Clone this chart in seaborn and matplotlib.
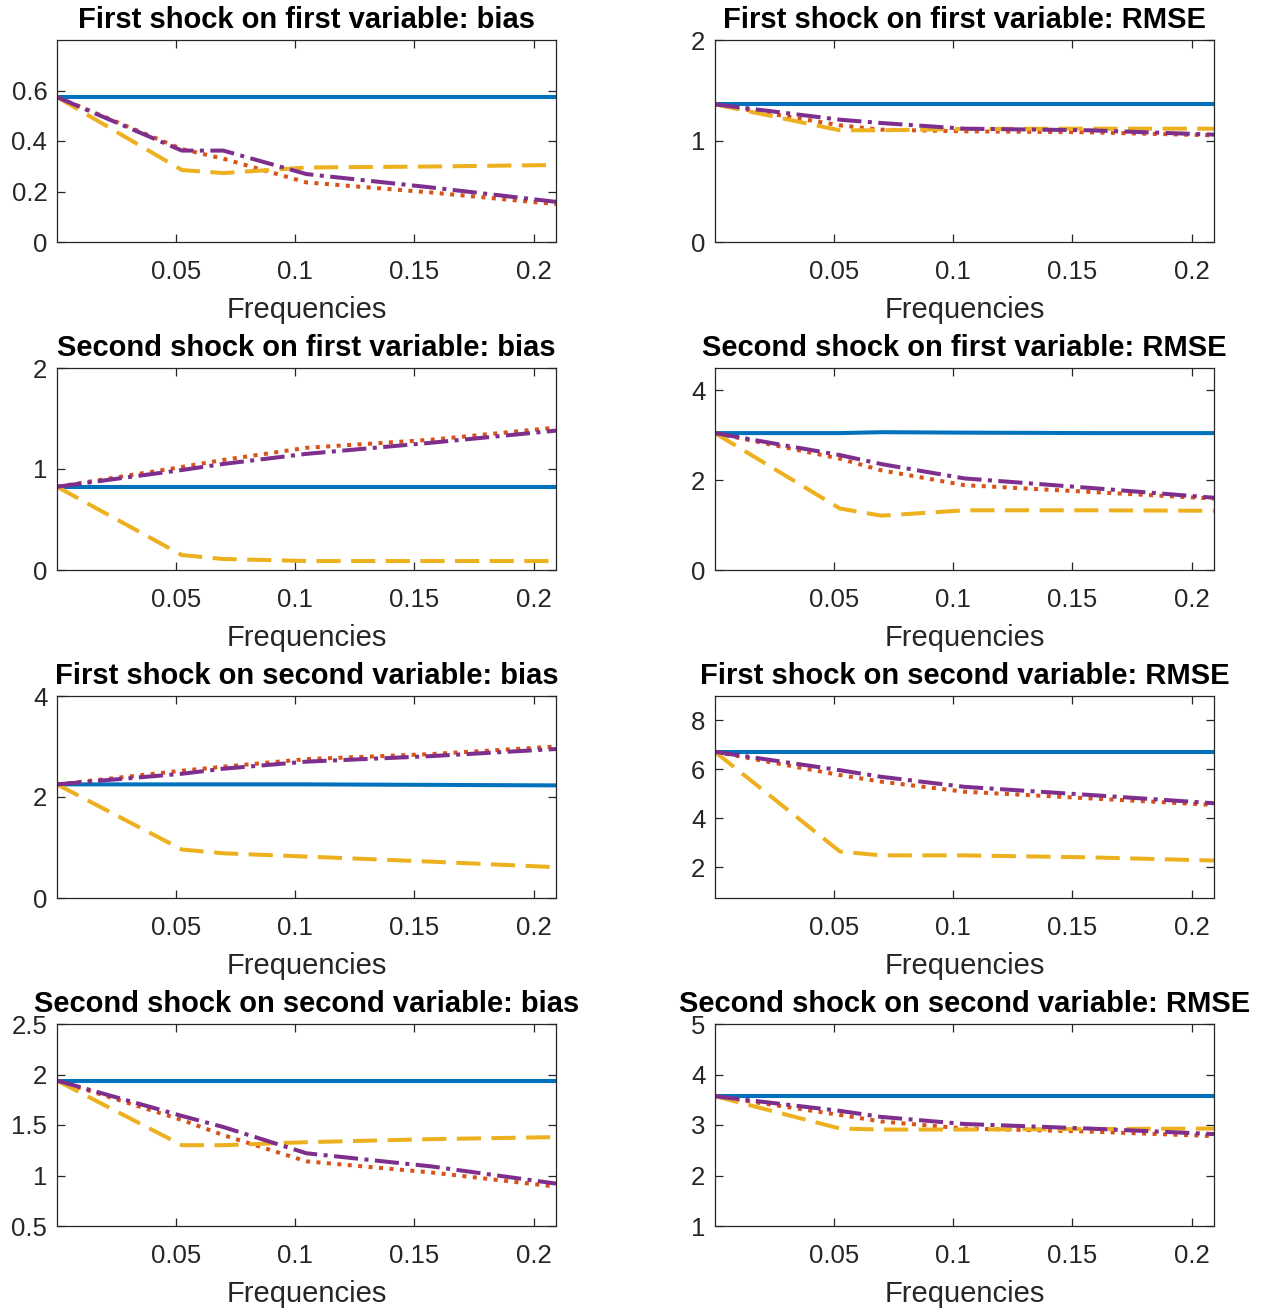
import numpy as np
import pandas as pd
import matplotlib
matplotlib.use("Agg")
import matplotlib.pyplot as plt
import seaborn as sns

# Frequency grid (radians per period)
freqs = [0.0, 0.0524, 0.0698, 0.1047, 0.1571, 0.2094]

titles = [
    "First shock on first variable: bias",
    "First shock on first variable: RMSE",
    "Second shock on first variable: bias",
    "Second shock on first variable: RMSE",
    "First shock on second variable: bias",
    "First shock on second variable: RMSE",
    "Second shock on second variable: bias",
    "Second shock on second variable: RMSE",
]

# One list per panel, panels in row-major order
solid_vals = [
    [0.574, 0.574, 0.574, 0.574, 0.574, 0.574],
    [1.363, 1.363, 1.363, 1.363, 1.363, 1.363],
    [0.824, 0.824, 0.824, 0.824, 0.824, 0.824],
    [3.05, 3.05, 3.07, 3.06, 3.05, 3.05],
    [2.25, 2.25, 2.25, 2.25, 2.24, 2.23],
    [6.72, 6.72, 6.72, 6.72, 6.72, 6.72],
    [1.94, 1.94, 1.94, 1.94, 1.94, 1.94],
    [3.57, 3.57, 3.57, 3.57, 3.57, 3.57],
]
dotted_vals = [
    [0.574, 0.368, 0.330, 0.236, 0.196, 0.150],
    [1.363, 1.155, 1.112, 1.096, 1.086, 1.056],
    [0.824, 1.02, 1.09, 1.21, 1.29, 1.41],
    [3.05, 2.48, 2.22, 1.89, 1.74, 1.59],
    [2.25, 2.52, 2.60, 2.75, 2.85, 3.00],
    [6.72, 5.77, 5.50, 5.09, 4.82, 4.55],
    [1.94, 1.55, 1.40, 1.14, 1.03, 0.89],
    [3.57, 3.20, 3.07, 2.93, 2.87, 2.78],
]
dashed_vals = [
    [0.574, 0.285, 0.273, 0.295, 0.299, 0.305],
    [1.363, 1.106, 1.106, 1.119, 1.122, 1.122],
    [0.824, 0.148, 0.109, 0.089, 0.089, 0.089],
    [3.05, 1.37, 1.21, 1.33, 1.33, 1.32],
    [2.25, 0.96, 0.885, 0.82, 0.72, 0.61],
    [6.72, 2.65, 2.49, 2.49, 2.41, 2.28],
    [1.94, 1.30, 1.30, 1.33, 1.36, 1.38],
    [3.57, 2.93, 2.91, 2.91, 2.92, 2.93],
]
dashdot_vals = [
    [0.574, 0.362, 0.362, 0.269, 0.216, 0.159],
    [1.363, 1.211, 1.178, 1.122, 1.106, 1.063],
    [0.824, 0.99, 1.05, 1.15, 1.26, 1.38],
    [3.05, 2.56, 2.36, 2.04, 1.83, 1.61],
    [2.25, 2.46, 2.56, 2.70, 2.81, 2.95],
    [6.72, 5.97, 5.70, 5.29, 4.96, 4.62],
    [1.94, 1.59, 1.48, 1.22, 1.09, 0.92],
    [3.57, 3.28, 3.16, 3.02, 2.93, 2.82],
]

y_limits = [(0, 0.8), (0, 2), (0, 2), (0, 4.5), (0, 4), (0.75, 9), (0.5, 2.5), (1, 5)]
y_ticks = [
    [0, 0.2, 0.4, 0.6],
    [0, 1, 2],
    [0, 1, 2],
    [0, 2, 4],
    [0, 2, 4],
    [2, 4, 6, 8],
    [0.5, 1, 1.5, 2, 2.5],
    [1, 2, 3, 4, 5],
]
x_ticks = [0.05, 0.1, 0.15, 0.2]
x_tick_labels = ["0.05", "0.1", "0.15", "0.2"]

sns.set_style("ticks")
plt.rcParams["font.family"] = ["Liberation Sans", "DejaVu Sans"]

AX_COLOR = "#262626"
series_styles = [
    (solid_vals, "#0072BD", None),
    (dotted_vals, "#D95319", (1.0, 1.6)),
    (dashed_vals, "#EDB120", (6.0, 2.6)),
    (dashdot_vals, "#7E2F8E", (6.0, 1.6, 1.0, 1.6)),
]

W, H = 1271, 1312
fig = plt.figure(figsize=(W / 100, H / 100), dpi=100)

col_left = [57, 715]
ax_w = 499
row_top = [40, 368, 696, 1024]
ax_h = 202

for i in range(8):
    r, c = divmod(i, 2)
    left = col_left[c] / W
    bottom = 1 - (row_top[r] + ax_h) / H
    ax = fig.add_axes([left, bottom, ax_w / W, ax_h / H])

    for vals, color, dash in series_styles:
        df = pd.DataFrame({"freq": freqs, "value": vals[i]})
        sns.lineplot(data=df, x="freq", y="value", ax=ax, color=color,
                     linewidth=2.9, estimator=None, sort=False)
        line = ax.lines[-1]
        if dash is not None:
            line.set_dashes(dash)
            line.set_dash_capstyle("butt")

    ax.set_xlim(0, 0.2094)
    ax.set_ylim(*y_limits[i])
    ax.set_xticks(x_ticks)
    ax.set_xticklabels(x_tick_labels)
    ax.set_yticks(y_ticks[i])
    ax.set_yticklabels([f"{t:g}" for t in y_ticks[i]])
    ax.set_xlabel("Frequencies", fontsize=21, color=AX_COLOR, labelpad=8.5)
    ax.set_ylabel("")
    ax.set_title(titles[i], fontsize=21, fontweight="bold", color="black", pad=8.5)
    ax.tick_params(direction="in", length=6, width=0.9, colors=AX_COLOR,
                   labelsize=18.5, top=True, right=True, pad=13)
    ax.tick_params(axis="y", pad=7)
    for sp in ax.spines.values():
        sp.set_visible(True)
        sp.set_color(AX_COLOR)
        sp.set_linewidth(0.9)

fig.savefig("out.png", dpi=100)
